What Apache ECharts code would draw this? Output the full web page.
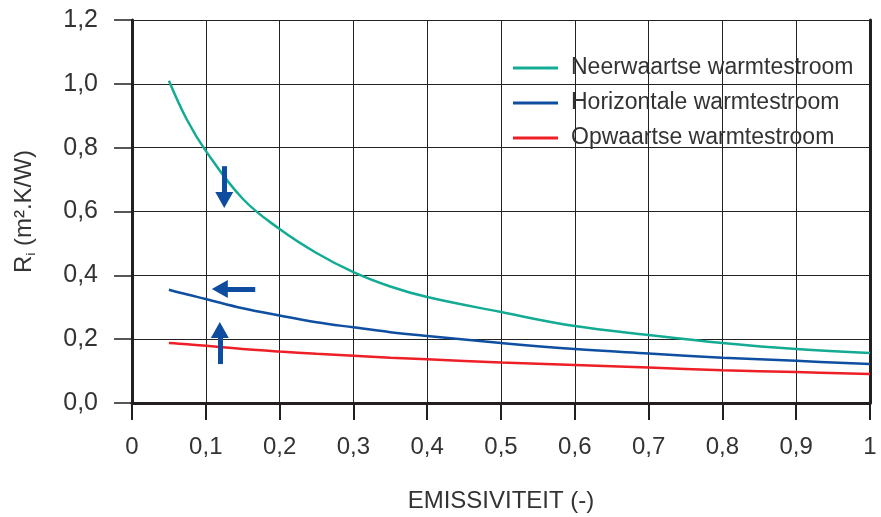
<!DOCTYPE html>
<html><head><meta charset="utf-8">
<script src="https://cdn.jsdelivr.net/npm/echarts@6/dist/echarts.min.js"></script>
<style>html,body{margin:0;padding:0;background:#fff}#c{width:881px;height:517px}</style>
</head><body><div id="c"></div>
<script>
const emissivity = [0.05, 0.075, 0.1, 0.15, 0.2, 0.25, 0.3, 0.35, 0.4, 0.5, 0.6, 0.7, 0.8, 0.9, 1.0];
const neerwaarts = [1.01, 0.885, 0.79, 0.64, 0.545, 0.47, 0.41, 0.365, 0.332, 0.285, 0.241, 0.213, 0.188, 0.169, 0.157];
const horizontaal = [0.355, 0.34, 0.326, 0.297, 0.274, 0.253, 0.237, 0.222, 0.21, 0.188, 0.169, 0.155, 0.142, 0.132, 0.122];
const opwaarts = [0.188, 0.184, 0.179, 0.169, 0.161, 0.154, 0.148, 0.142, 0.137, 0.127, 0.119, 0.111, 0.103, 0.097, 0.091];
const seriesNames = ['Neerwaartse warmtestroom', 'Horizontale warmtestroom', 'Opwaartse warmtestroom'];
const arrowDown = [[0.125, 0.742], [0.125, 0.636]];
const arrowLeft = [[0.167, 0.357], [0.119, 0.357]];
const arrowUp = [[0.119, 0.122], [0.119, 0.229]];

const pair = (xs, ys) => xs.map((x, i) => [x, ys[i]]);
const comma = v => String(+v.toFixed(2)).replace('.', ',');
const txt = '#333';
const font = '"Liberation Sans", Arial, sans-serif';
const chart = echarts.init(document.getElementById('c'));
const lineSeries = (name, ys, color) => ({
  name, type: 'line', data: pair(emissivity, ys), smooth: 0.4, symbol: 'none',
  lineStyle: { color, width: 2.5 }, itemStyle: { color }
});
const arrow = a => [{ coord: a[0] }, { coord: a[1] }];
chart.setOption({
  animation: false,
  grid: { left: 132, right: 11, top: 20, bottom: 114, outerBoundsMode: 'none', containLabel: false },
  legend: {
    data: seriesNames, orient: 'vertical', left: 508, top: 50, icon: 'rect',
    itemWidth: 45, itemHeight: 3, itemGap: 9,
    textStyle: { fontSize: 23, color: txt, fontFamily: font, lineHeight: 26, padding: [0, 0, 0, 8] }
  },
  xAxis: {
    type: 'value', min: 0, max: 1, interval: 0.1,
    name: 'EMISSIVITEIT (-)', nameLocation: 'middle', nameGap: 86,
    nameTextStyle: { fontSize: 24, color: txt, fontFamily: font },
    axisLine: { lineStyle: { color: '#231f20', width: 3 } },
    axisTick: { show: true, inside: false, length: 17, lineStyle: { color: '#231f20', width: 2 } },
    axisLabel: { formatter: comma, fontSize: 24, color: txt, margin: 32, fontFamily: font },
    splitLine: { show: true, lineStyle: { color: '#222', width: 1 } }
  },
  yAxis: [{
    type: 'value', min: 0, max: 1.2, interval: 0.2,
    name: 'R{s|i} (m².K/W)', nameLocation: 'middle', nameGap: 94, nameRotate: 90,
    nameTextStyle: { fontSize: 24, color: txt, fontFamily: font,
      rich: { s: { fontSize: 13, color: txt, verticalAlign: 'bottom', padding: [14, 0, 0, 0] } } },
    axisLine: { show: true, lineStyle: { color: '#231f20', width: 3 } },
    axisTick: { show: true, inside: false, length: 18, lineStyle: { color: '#231f20', width: 1.5 } },
    axisLabel: { formatter: v => v.toFixed(1).replace('.', ','), fontSize: 25, color: txt, margin: 34, fontFamily: font },
    splitLine: { show: true, lineStyle: { color: '#222', width: 1 } }
  }, {
    type: 'value', min: 0, max: 1.2, interval: 0.2, position: 'right',
    axisLine: { show: true, lineStyle: { color: '#231f20', width: 3 } },
    axisTick: { show: false }, axisLabel: { show: false }, splitLine: { show: false }
  }],
  series: [
    lineSeries(seriesNames[0], neerwaarts, '#13ab93'),
    lineSeries(seriesNames[1], horizontaal, '#0f4fa2'),
    lineSeries(seriesNames[2], opwaarts, '#ee1f27'),
    {
      name: 'arrows', type: 'line', data: [], silent: true,
      markLine: {
        silent: true, symbol: ['none', 'triangle'], symbolSize: [18, 16],
        label: { show: false }, emphasis: { disabled: true },
        lineStyle: { color: '#0d4c9f', width: 5, type: 'solid' },
        data: [arrow(arrowDown), arrow(arrowLeft), arrow(arrowUp)]
      }
    }
  ]
});
</script></body></html>
